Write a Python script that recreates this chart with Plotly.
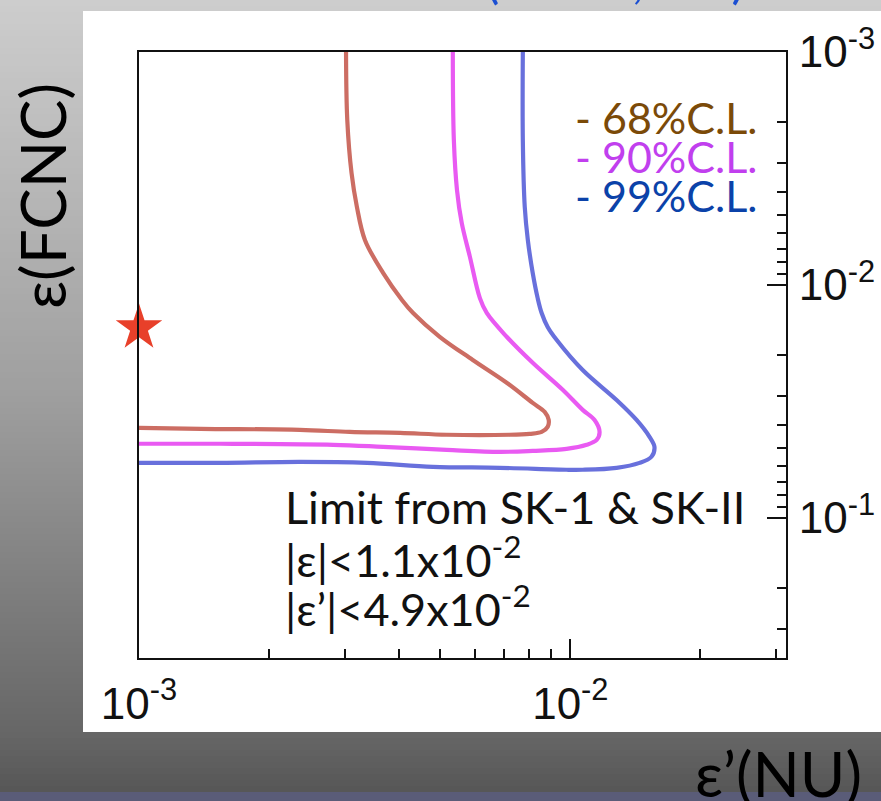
import plotly.graph_objects as go

# ---- contour data: epsilon'(NU) on x, epsilon(FCNC) on y ----
cl68_x = [3.02e-3, 3.04e-3, 3.11e-3, 3.20e-3, 3.34e-3, 3.68e-3, 4.07e-3, 4.32e-3,
          4.98e-3, 5.94e-3, 7.12e-3, 8.18e-3, 8.72e-3, 8.91e-3, 8.86e-3, 8.58e-3,
          8.05e-3, 7.24e-3, 5.17e-3, 4.03e-3, 3.08e-3, 2.36e-3, 1.39e-3, 1.00e-3]
cl68_y = [1.00e-3, 1.96e-3, 3.31e-3, 4.62e-3, 6.41e-3, 8.88e-3, 1.16e-2, 1.32e-2,
          1.67e-2, 2.10e-2, 2.63e-2, 3.21e-2, 3.51e-2, 3.80e-2, 4.07e-2, 4.28e-2,
          4.36e-2, 4.40e-2, 4.40e-2, 4.32e-2, 4.28e-2, 4.19e-2, 4.15e-2, 4.11e-2]

cl90_x = [5.34e-3, 5.37e-3, 5.46e-3, 5.60e-3, 5.85e-3, 6.17e-3, 6.40e-3, 7.12e-3,
          8.18e-3, 9.60e-3, 1.068e-2, 1.138e-2, 1.169e-2, 1.151e-2, 1.091e-2, 9.80e-3,
          8.18e-3, 6.86e-3, 5.17e-3, 3.68e-3, 2.82e-3, 1.54e-3, 1.00e-3]
cl90_y = [1.00e-3, 2.39e-3, 3.91e-3, 5.42e-3, 7.58e-3, 1.14e-2, 1.32e-2, 1.67e-2,
          2.16e-2, 2.82e-2, 3.44e-2, 3.80e-2, 4.28e-2, 4.63e-2, 4.86e-2, 5.06e-2,
          5.16e-2, 5.21e-2, 5.11e-2, 4.96e-2, 4.86e-2, 4.81e-2, 4.81e-2]

cl99_x = [7.76e-3, 7.76e-3, 7.84e-3, 7.97e-3, 8.18e-3, 8.40e-3, 8.58e-3, 8.86e-3,
          9.29e-3, 1.068e-2, 1.280e-2, 1.424e-2, 1.526e-2, 1.567e-2, 1.542e-2, 1.447e-2,
          1.280e-2, 1.068e-2, 9.80e-3, 6.86e-3, 4.80e-3, 3.38e-3, 2.36e-3, 1.54e-3, 1.00e-3]
cl99_y = [1.00e-3, 2.39e-3, 4.62e-3, 6.41e-3, 8.88e-3, 1.14e-2, 1.32e-2, 1.515e-2,
          1.72e-2, 2.32e-2, 3.12e-2, 3.80e-2, 4.49e-2, 4.96e-2, 5.47e-2, 5.81e-2,
          6.10e-2, 6.22e-2, 6.22e-2, 6.10e-2, 6.04e-2, 5.81e-2, 5.75e-2, 5.81e-2, 5.81e-2]

# best-fit point
best_x = [1.0e-3]
best_y = [1.53e-2]

x_tickvals = [1e-3, 1e-2]
x_ticktext = ["10<sup>-3</sup>", "10<sup>-2</sup>"]
y_tickvals = [1e-3, 1e-2, 1e-1]
y_ticktext = ["10<sup>-3</sup>", "10<sup>-2</sup>", "10<sup>-1</sup>"]

cl_labels = ["- 68%C.L.", "- 90%C.L.", "- 99%C.L."]
cl_text_colors = ["#7b4a08", "#c13fee", "#0b42a9"]
line_colors = ["#cc6d63", "#e95af2", "#6870dc"]

limit_lines = ["Limit from SK-1 &amp; SK-II",
               "|ε|&lt;1.1x10<sup>-2</sup>",
               "|ε’|&lt;4.9x10<sup>-2</sup>"]

page_title = "(FCNC, NU)"

# ---- page geometry (pixels) ----
W, H = 881, 801
L, R, T, B = 139, 786, 52, 658


def fx(p):
    return (p - L) / (R - L)


def fy(p):
    return (B - p) / (B - T)


GILL = "Lato, 'Noto Sans', sans-serif"
ROOTF = "'Liberation Sans', Arial, sans-serif"

fig = go.Figure()

for xs, ys, c in zip([cl68_x, cl90_x, cl99_x], [cl68_y, cl90_y, cl99_y], line_colors):
    fig.add_trace(go.Scatter(
        x=xs, y=ys, mode="lines",
        line=dict(color=c, width=4.2, shape="spline", smoothing=1.0),
        hoverinfo="skip", showlegend=False,
    ))

fig.add_trace(go.Scatter(
    x=best_x, y=best_y, mode="markers",
    marker=dict(symbol="star", size=35, color="#e8402a", line=dict(width=0)),
    cliponaxis=False, showlegend=False, hoverinfo="skip",
))

# ---- background: grey vertical gradient, white panel ----
shapes = []
stops = [(0, 205), (400, 158), (735, 102), (792, 86)]


def grey_at(y):
    for (y0, g0), (y1, g1) in zip(stops[:-1], stops[1:]):
        if y <= y1:
            return g0 + (g1 - g0) * (y - y0) / (y1 - y0)
    return stops[-1][1]


step = 6
for y0 in range(0, 792, step):
    g = int(round(grey_at(y0 + step / 2)))
    shapes.append(dict(type="rect", xref="paper", yref="paper", layer="below",
                       x0=fx(-5), x1=fx(W + 5), y0=fy(y0), y1=fy(min(y0 + step, 792) + 0.5),
                       fillcolor=f"rgb({g},{g},{g})", line=dict(width=0)))
shapes.append(dict(type="rect", xref="paper", yref="paper", layer="below",
                   x0=fx(-5), x1=fx(W + 5), y0=fy(792), y1=fy(H + 5),
                   fillcolor="rgb(90,92,120)", line=dict(width=0)))
shapes.append(dict(type="rect", xref="paper", yref="paper", layer="below",
                   x0=fx(83), x1=fx(W + 5), y0=fy(11), y1=fy(732),
                   fillcolor="white", line=dict(width=0)))

annotations = []
# page title, mostly above the top edge
annotations.append(dict(text=page_title, xref="paper", yref="paper", x=fx(615), y=fy(-21),
                        xanchor="center", yanchor="middle", showarrow=False,
                        font=dict(family=GILL, size=50, color="#1b4fd2")))
# confidence-level key
for i, (t, c) in enumerate(zip(cl_labels, cl_text_colors)):
    annotations.append(dict(text=t, xref="paper", yref="paper", x=fx(759), y=fy(117 + 39 * i),
                            xanchor="right", yanchor="middle", showarrow=False,
                            font=dict(family=GILL, size=43, color=c)))
# SK limit text
for i, t in enumerate(limit_lines):
    annotations.append(dict(text=t, xref="paper", yref="paper", x=fx(283), y=fy(507 + 49.5 * i),
                            xanchor="left", yanchor="middle", showarrow=False,
                            font=dict(family=GILL, size=45, color="#111111")))
# axis titles
annotations.append(dict(text="ε(FCNC)", xref="paper", yref="paper", x=fx(42), y=fy(196),
                        xanchor="center", yanchor="middle", textangle=-90, showarrow=False,
                        font=dict(family=GILL, size=62, color="#000000")))
annotations.append(dict(text="ε’(NU)", xref="paper", yref="paper", x=fx(864), y=fy(773),
                        xanchor="right", yanchor="middle", showarrow=False,
                        font=dict(family=GILL, size=62, color="#000000")))

fig.update_layout(
    width=W, height=H,
    margin=dict(l=L, r=W - R, t=T, b=H - B, pad=0, autoexpand=False),
    paper_bgcolor="rgb(150,150,150)",
    plot_bgcolor="white",
    shapes=shapes,
    annotations=annotations,
    showlegend=False,
)

fig.update_xaxes(
    type="log", range=[-3, -1.5], automargin=False,
    showgrid=False, zeroline=False,
    showline=True, linecolor="#111111", linewidth=2, mirror=True,
    ticks="inside", ticklen=19, tickwidth=1.5, tickcolor="#111111",
    tickvals=x_tickvals, ticktext=x_ticktext, ticklabelstandoff=6,
    tickfont=dict(family=ROOTF, size=44, color="#111111"),
    minor=dict(ticks="inside", ticklen=9, tickwidth=1.5, tickcolor="#111111",
               tickvals=[2e-3, 3e-3, 4e-3, 5e-3, 6e-3, 7e-3, 8e-3, 9e-3, 2e-2, 3e-2]),
)
fig.update_yaxes(
    type="log", range=[-0.398, -3], side="right", automargin=False,
    showgrid=False, zeroline=False,
    showline=True, linecolor="#111111", linewidth=2, mirror=True,
    ticks="inside", ticklen=19, tickwidth=1.5, tickcolor="#111111",
    tickvals=y_tickvals, ticktext=y_ticktext, ticklabelstandoff=2,
    tickfont=dict(family=ROOTF, size=44, color="#111111"),
    minor=dict(ticks="inside", ticklen=9, tickwidth=1.5, tickcolor="#111111",
               tickvals=[2e-3, 3e-3, 4e-3, 5e-3, 6e-3, 7e-3, 8e-3, 9e-3,
                         2e-2, 3e-2, 4e-2, 5e-2, 6e-2, 7e-2, 8e-2, 9e-2,
                         2e-1, 3e-1, 4e-1]),
)

fig.write_html("out.html")
